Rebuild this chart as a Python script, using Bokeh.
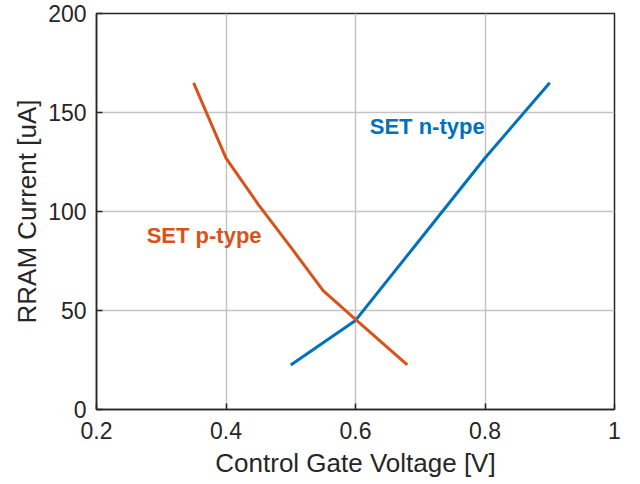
from bokeh.plotting import figure
from bokeh.models import FixedTicker, Range1d
from bokeh.core.properties import value
from bokeh.embed import file_html
from bokeh.resources import INLINE

# Data
n_voltage = [0.5, 0.6, 0.7, 0.8, 0.9]
n_current = [22.5, 45, 86, 127, 165]
p_voltage = [0.35, 0.4, 0.45, 0.5, 0.55, 0.6, 0.68]
p_current = [165, 127, 103.5, 82, 60, 45.5, 22.5]

x_ticks = [0.2, 0.4, 0.6, 0.8, 1.0]
x_tick_labels = ["0.2", "0.4", "0.6", "0.8", "1"]
y_ticks = [0, 50, 100, 150, 200]

label_texts = ["SET p-type", "SET n-type"]
label_x = [0.2775, 0.622]
label_y = [88, 143]
label_colors = ["#D95319", "#0072BD"]

FONT = "Liberation Sans"
AX = "#262626"

p = figure(width=634, height=483, output_backend="svg", toolbar_location=None,
           x_range=Range1d(0.2, 1.0), y_range=Range1d(0, 200),
           min_border_left=96, min_border_right=20, min_border_top=13, min_border_bottom=74)
p.background_fill_color = "white"
p.border_fill_color = "white"
p.outline_line_color = AX
p.outline_line_width = 1.5

p.line(n_voltage, n_current, line_color="#0072BD", line_width=3)
p.line(p_voltage, p_current, line_color="#D95319", line_width=3)

for t, x, y, c in zip(label_texts, label_x, label_y, label_colors):
    p.text(x=[x], y=[y], text=[t], text_color=c, text_font=value(FONT),
           text_font_size="22px", text_font_style="bold",
           text_align="left", text_baseline="middle")

p.xaxis.ticker = FixedTicker(ticks=x_ticks)
p.xaxis.major_label_overrides = {t: l for t, l in zip(x_ticks, x_tick_labels)}
p.yaxis.ticker = FixedTicker(ticks=y_ticks)

for ax in (p.xaxis[0], p.yaxis[0]):
    ax.minor_tick_line_color = None
    ax.major_tick_in = 6
    ax.major_tick_out = 0
    ax.major_tick_line_color = AX
    ax.major_tick_line_width = 1.5
    ax.axis_line_color = AX
    ax.axis_line_width = 1.5
    ax.major_label_text_font = FONT
    ax.major_label_text_font_size = "23px"
    ax.major_label_text_color = AX
    ax.major_label_standoff = 10
    ax.axis_label_text_font = FONT
    ax.axis_label_text_font_size = "26px"
    ax.axis_label_text_font_style = "normal"
    ax.axis_label_text_color = AX
    ax.axis_label_standoff = 5

p.xaxis[0].major_label_standoff = 12
p.xaxis[0].axis_label_standoff = 6
p.yaxis[0].axis_label_standoff = 3

p.xaxis.axis_label = "Control Gate Voltage [V]"
p.yaxis.axis_label = "RRAM Current [uA]"

for g in (p.xgrid[0], p.ygrid[0]):
    g.grid_line_color = "#c4c4c4"
    g.grid_line_width = 1.5

open("out.html", "w").write(file_html(p, INLINE))
